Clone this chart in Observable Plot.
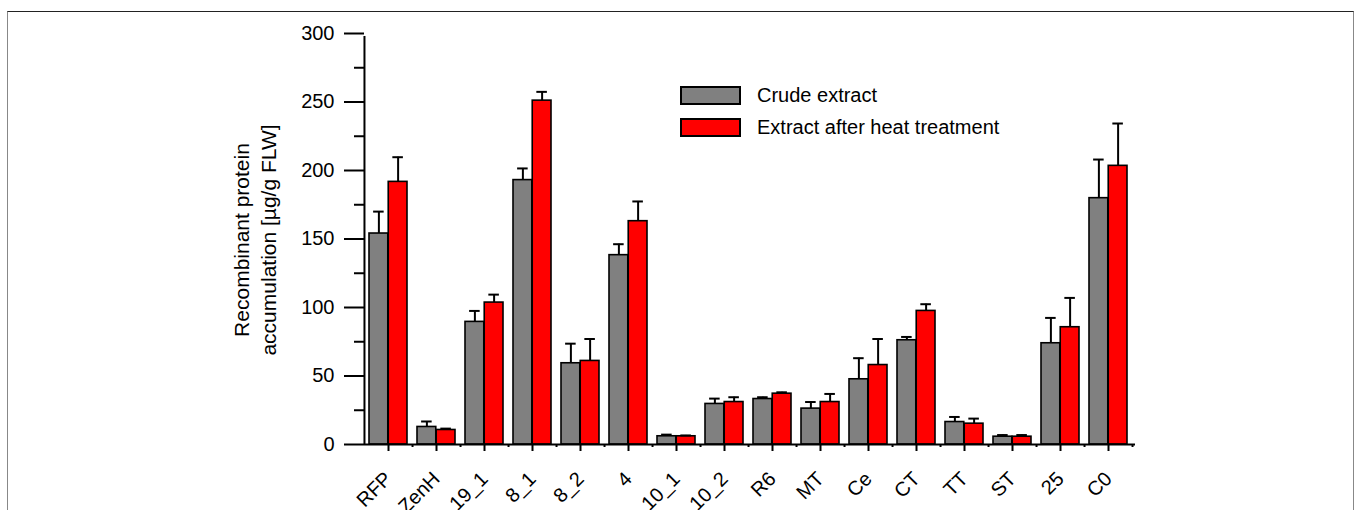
<!DOCTYPE html>
<html>
<head>
<meta charset="utf-8">
<script src="https://cdn.jsdelivr.net/npm/d3@7"></script>
<script src="https://cdn.jsdelivr.net/npm/@observablehq/plot@0.6"></script>
<style>
  html, body { margin: 0; padding: 0; background: #fff; }
  #wrap { position: relative; width: 1358px; height: 510px; overflow: hidden; font-family: "Liberation Sans", Arial, sans-serif; }
  #frame { position: absolute; left: 7px; top: 11px; width: 1347px; height: 600px; border-top: 1px solid #222; border-left: 1.5px solid #888; border-right: 1.5px solid #888; box-sizing: border-box; pointer-events: none; }
  #chart { position: absolute; left: 0; top: 0; }
  #legend { position: absolute; left: 680px; top: 86px; font-size: 20px; color: #000; }
  .item { display: flex; align-items: center; height: 19px; margin-bottom: 13px; }
  .sw { width: 61px; height: 19px; border: 2px solid #000; box-sizing: border-box; margin-right: 16px; }
</style>
</head>
<body>
<div id="wrap">
  <div id="frame"></div>
  <div id="chart"></div>
  <div id="legend"></div>
</div>
<script>
const categories = ["RFP","ZenH","19_1","8_1","8_2","4","10_1","10_2","R6","MT","Ce","CT","TT","ST","25","C0"];
const seriesNames = ["Crude extract", "Extract after heat treatment"];
const crude    = [154, 12.8, 89.5, 193, 59.3, 138.2, 6, 29.6, 33.2, 26.2, 47.6, 76.1, 16.4, 5.7, 73.9, 179.8];
const crudeErr = [16, 4, 8, 8.5, 14.3, 8, 1.2, 3.9, 1.3, 4.8, 15.4, 2.4, 3.7, 1.2, 18.5, 28.2];
const heat     = [191.7, 10.6, 103.6, 251, 61, 163, 6, 31, 37.1, 31, 58, 97.5, 15.2, 5.7, 85.6, 203.4];
const heatErr  = [18, 1, 5.8, 6.4, 16, 14.4, 0.6, 3.5, 1, 5.9, 19, 4.9, 3.7, 1.2, 21.4, 30.9];
const yTicks = [0, 50, 100, 150, 200, 250, 300];
const yMinor = [25, 75, 125, 175, 225, 275];
const colors = ["#808080", "#ff0000"];
const yLabel = "Recombinant protein\naccumulation [µg/g FLW]";

const W = 1358, H = 510, mL = 364, mR = 225, mT = 33, mB = 66;
const step = (W - mL - mR) / categories.length;
const pInner = 0.2;
const bw = step * (1 - pInner);
const capHalf = 5.5;

const crudeRows = categories.map((c, i) => ({cat: c, value: crude[i], err: crudeErr[i]}));
const heatRows = categories.map((c, i) => ({cat: c, value: heat[i], err: heatErr[i]}));

const font = "Liberation Sans, Arial, sans-serif";
const blank = () => "";

const plot = Plot.plot({
  width: W, height: H,
  marginLeft: mL, marginRight: mR, marginTop: mT, marginBottom: mB,
  style: {fontFamily: font, background: "transparent", overflow: "visible"},
  x: {type: "band", domain: categories, paddingInner: pInner, paddingOuter: pInner / 2, label: null},
  y: {domain: [0, 300], label: null},
  marks: [
    Plot.barY(crudeRows, {x: "cat", y: "value", fill: colors[0], stroke: "#000", strokeWidth: 1.6, insetRight: bw / 2}),
    Plot.barY(heatRows, {x: "cat", y: "value", fill: colors[1], stroke: "#000", strokeWidth: 1.6, insetLeft: bw / 2}),
    Plot.ruleX(crudeRows, {x: "cat", y1: "value", y2: d => d.value + d.err, dx: -bw / 4, stroke: "#000", strokeWidth: 2}),
    Plot.ruleX(heatRows, {x: "cat", y1: "value", y2: d => d.value + d.err, dx: bw / 4, stroke: "#000", strokeWidth: 2}),
    Plot.tickY(crudeRows, {x: "cat", y: d => d.value + d.err, insetLeft: bw / 4 - capHalf, insetRight: 3 * bw / 4 - capHalf, stroke: "#000", strokeWidth: 2}),
    Plot.tickY(heatRows, {x: "cat", y: d => d.value + d.err, insetLeft: 3 * bw / 4 - capHalf, insetRight: bw / 4 - capHalf, stroke: "#000", strokeWidth: 2}),
    // y axis
    Plot.axisY(yTicks, {tickSize: 20, tickPadding: 10, fontSize: 20, stroke: "#000", strokeWidth: 2, fill: "#000", label: null}),
    Plot.axisY(yMinor, {tickSize: 10, tickFormat: blank, stroke: "#000", strokeWidth: 2, label: null}),
    Plot.ruleX([categories[0]], {dx: -step / 2, y1: 0, y2: 300, insetBottom: -3, stroke: "#000", strokeWidth: 2}),
    // x axis
    Plot.ruleY([0], {stroke: "#000", strokeWidth: 2, insetRight: -2}),
    Plot.axisX({tickSize: 7, tickPadding: 24, tickRotate: -45, fontSize: 20, stroke: "#000", strokeWidth: 2, fill: "#000", label: null}),
    Plot.axisX({tickSize: 3, tickFormat: blank, dx: step / 2, stroke: "#000", strokeWidth: 2, label: null}),
    // y label
    Plot.text([yLabel], {frameAnchor: "left", dx: -111, dy: 1, rotate: -90, text: d => d, fontSize: 21, lineHeight: 1.3, lineAnchor: "middle", textAnchor: "middle", fill: "#000"})
  ]
});
document.getElementById("chart").appendChild(plot);

const legend = document.getElementById("legend");
seriesNames.forEach((name, i) => {
  const item = document.createElement("div");
  item.className = "item";
  const sw = document.createElement("div");
  sw.className = "sw";
  sw.style.background = colors[i];
  const t = document.createElement("span");
  t.textContent = name;
  item.appendChild(sw);
  item.appendChild(t);
  legend.appendChild(item);
});
</script>
</body>
</html>
